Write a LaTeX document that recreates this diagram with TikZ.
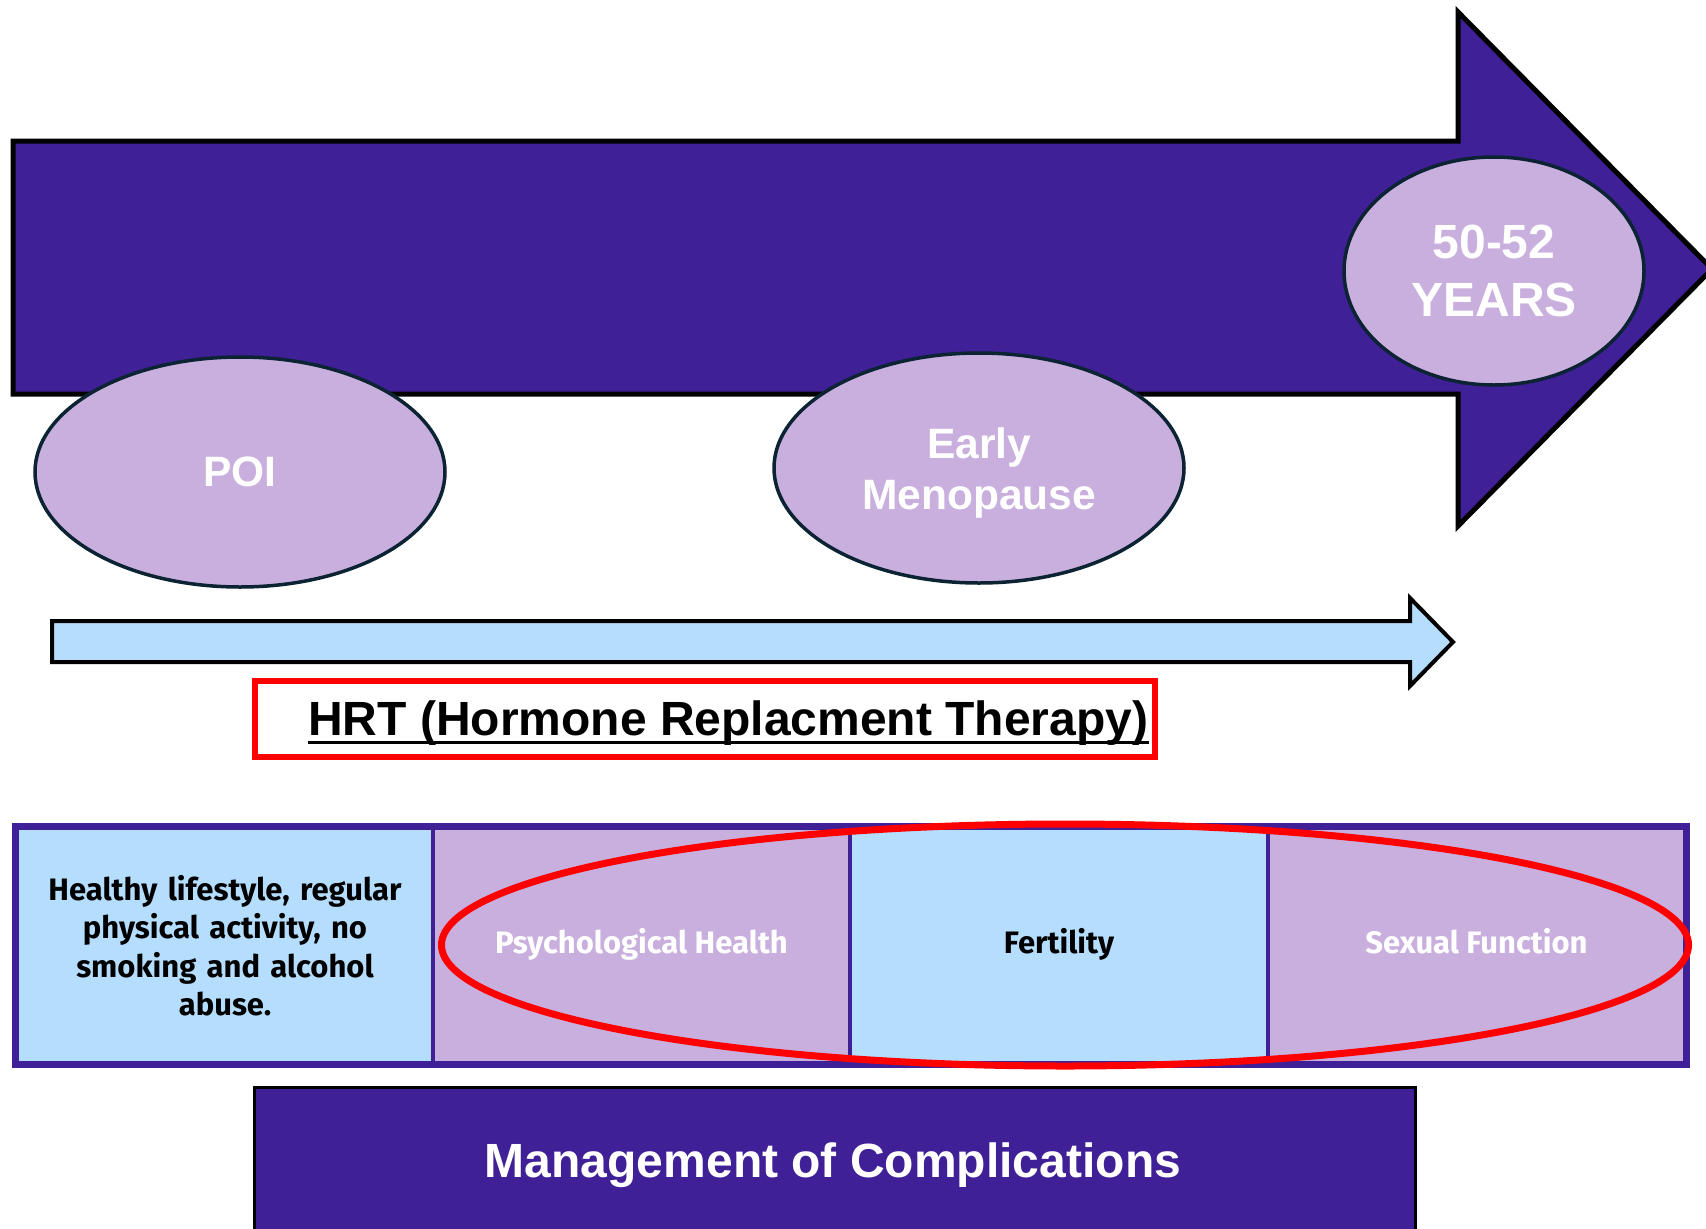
\documentclass[tikz,border=0pt]{standalone}
\usepackage{fontspec}
\setmainfont{Liberation Sans}
\newfontfamily\aptos{Fira Sans}
\usetikzlibrary{shapes.geometric}
\definecolor{dpurple}{RGB}{63,32,150}
\definecolor{lilac}{RGB}{201,175,221}
\definecolor{lblue}{RGB}{181,222,254}
\definecolor{navy}{RGB}{12,35,52}
\tikzset{
  stage/.style={ellipse, draw=navy, line width=3.5, fill=lilac, inner sep=0,
    minimum width=410, minimum height=230, text=white, align=center,
    font=\bfseries\fontsize{42.5}{51}\selectfont},
  stagetext/.style={text=white, align=center, inner sep=0,
    font=\bfseries\fontsize{42.5}{51}\selectfont},
  cell/.style={rectangle, draw=dpurple, line width=4, inner sep=0,
    minimum height=235, align=center,
    font=\aptos\bfseries\fontsize{31}{38.5}\selectfont},
  oneline/.style={text height=22pt, text depth=7pt},
}
\begin{document}
\begin{tikzpicture}[x=1pt,y=-1pt]
\useasboundingbox (0,0) rectangle (1706,1229);
\clip (0,0) rectangle (1706,1229);
\fill[white] (0,0) rectangle (1706,1229);
% big timeline arrow
\draw[line width=5, fill=dpurple, line join=miter]
  (13,141) -- (1458,141) -- (1458,12) -- (1712,269) -- (1458,526)
  -- (1458,394) -- (13,394) -- cycle;
% stages
\node[stage] (poi) at (240,472) {POI};
\node[stage] (early) at (979,468) {};
\node[stagetext] (earlytxt) at (979,473) {Early\\Menopause};
\node[stage, minimum width=300, minimum height=228,
  font=\bfseries\fontsize{48}{58}\selectfont] (years) at (1494,271) {50-52\\YEARS};
% HRT arrow
\draw[line width=4, fill=lblue, line join=miter]
  (52,621) -- (1410,621) -- (1410,598) -- (1453,642) -- (1410,686)
  -- (1410,662) -- (52,662) -- cycle;
% HRT label
\node[draw=red, line width=6, minimum width=900, minimum height=76, inner sep=0]
  (hrtbox) at (705,719) {};
\node[inner sep=0, anchor=base west, font=\bfseries\fontsize{48}{56}\selectfont]
  (hrt) at (308,735) {HRT (Hormone Replacment Therapy)};
\draw[line width=3] ([yshift=-7pt]hrt.base west) -- ([yshift=-7pt]hrt.base east);
% bottom row
\node[cell, fill=lblue, minimum width=416, text width=390] (c1) at (225,945.5)
  {Healthy lifestyle, regular\\physical activity, no\\smoking and alcohol\\abuse.};
\node[cell, oneline, fill=lilac, minimum width=417, text=white] (c2) at (641.5,945.5) {Psychological Health};
\node[cell, oneline, fill=lblue, minimum width=418] (c3) at (1059,945.5) {Fertility};
\node[cell, oneline, fill=lilac, minimum width=417, text=white] (c4) at (1476.5,945.5) {Sexual Function};
\draw[dpurple, line width=6] (c1.north west) rectangle (c4.south east);
\node[ellipse, draw=red, line width=7, minimum width=1247, minimum height=242, inner sep=0]
  (ring) at (1065,945) {};
% management
\node[draw=black, line width=3, fill=dpurple, anchor=north west, inner sep=0,
  minimum width=1161, minimum height=200] (mgmtbox) at (253,1086) {};
\node[text=white, font=\bfseries\fontsize{48}{56}\selectfont] (mgmt) at (833,1165)
  {Management of Complications};
\end{tikzpicture}
\end{document}
